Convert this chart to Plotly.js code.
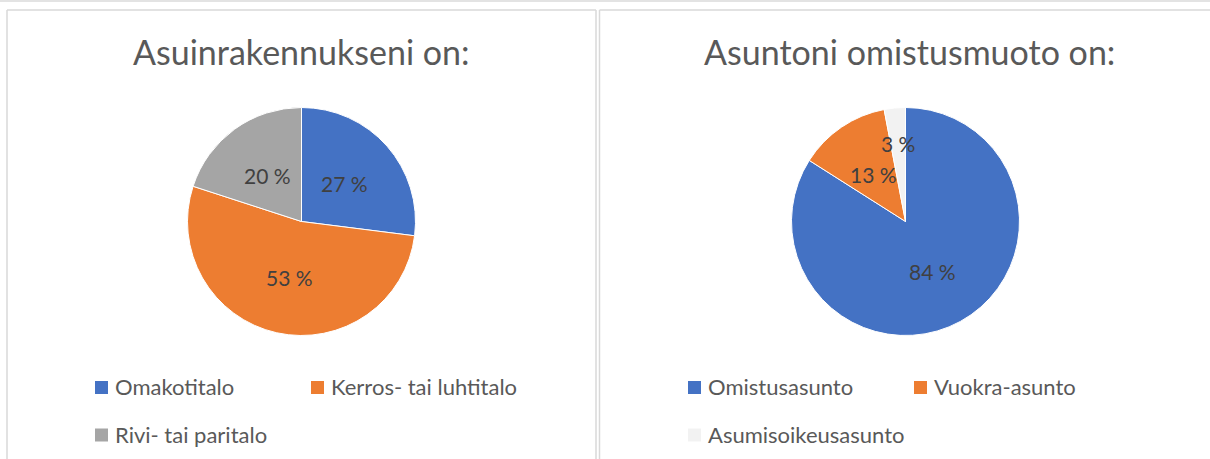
<!DOCTYPE html>
<html><head><meta charset="utf-8">
<script src="https://cdn.plot.ly/plotly-3.0.1.min.js"></script>
<style>html,body{margin:0;padding:0;background:#fff}#chart{width:1210px;height:459px}</style>
</head><body><div id="chart"></div>
<script>
// ---- data ----
const buildingTitle = 'Asuinrakennukseni on:';
const buildingLabels = ['Omakotitalo', 'Kerros- tai luhtitalo', 'Rivi- tai paritalo'];
const buildingValues = [27, 53, 20];
const buildingColors = ['#4472C4', '#ED7D31', '#A5A5A5'];

const tenureTitle = 'Asuntoni omistusmuoto on:';
const tenureLabels = ['Omistusasunto', 'Vuokra-asunto', 'Asumisoikeusasunto'];
const tenureValues = [84, 13, 3];
const tenureColors = ['#4472C4', '#ED7D31', '#F2F2F2'];

// ---- layout / style ----
const W = 1210, H = 459;
const FONT = 'Lato, "Open Sans", sans-serif';
const X = px => px / W, Y = py => 1 - py / H;

const panels = [
  {title: buildingTitle, labels: buildingLabels, values: buildingValues, colors: buildingColors,
   cx: 301.5, cy: 221.5, r: 114, titleX: 301.5, legendCols: [95, 311]},
  {title: tenureTitle, labels: tenureLabels, values: tenureValues, colors: tenureColors,
   cx: 905.5, cy: 221.5, r: 114, titleX: 909, legendCols: [688, 914]}
];
const legendRows = [387.5, 435];
const titleY = 51;

const traces = [], annotations = [], shapes = [];
const border = {color: '#D9D9D9', width: 1.5};
function line(x0, y0, x1, y1, c) {
  shapes.push({type: 'line', xref: 'paper', yref: 'paper', x0: X(x0), y0: Y(y0), x1: X(x1), y1: Y(y1), line: c || border});
}
line(0, 1, W, 1, {color: '#E3E3E3', width: 2});
line(7, 10, 7, H); line(7, 10, 596, 10); line(596, 10, 596, H);
line(599.5, 10, 599.5, H); line(599.5, 10, W, 10);

panels.forEach(p => {
  traces.push({
    type: 'pie', labels: p.labels, values: p.values, sort: false,
    direction: 'clockwise', rotation: 0,
    marker: {colors: p.colors, line: {color: '#FFFFFF', width: 1}},
    textinfo: 'none', hovertemplate: '%{label}: %{value} %<extra></extra>',
    showlegend: false,
    domain: {x: [X(p.cx - p.r), X(p.cx + p.r)], y: [Y(p.cy + p.r), Y(p.cy - p.r)]}
  });
  annotations.push({text: p.title, xref: 'paper', yref: 'paper', x: X(p.titleX), y: Y(titleY),
    xanchor: 'center', yanchor: 'middle', showarrow: false,
    font: {family: FONT, size: 34, color: '#595959'}});
  // data labels
  const total = p.values.reduce((a, b) => a + b, 0);
  let cum = 0;
  p.values.forEach(v => {
    const mid = (cum + v / 2) / total; cum += v;
    const th = 2 * Math.PI * mid;
    const rf = v / total < 0.05 ? 0.69 : 0.5;
    annotations.push({text: v + ' %', xref: 'paper', yref: 'paper',
      x: X(p.cx + rf * p.r * Math.sin(th)), y: Y(p.cy - rf * p.r * Math.cos(th)),
      xanchor: 'center', yanchor: 'middle', showarrow: false,
      font: {family: FONT, size: 21, color: '#404040'}});
  });
  // legend
  p.labels.forEach((lab, i) => {
    const lx = p.legendCols[i % 2], ly = legendRows[Math.floor(i / 2)];
    shapes.push({type: 'rect', xref: 'paper', yref: 'paper', x0: X(lx), x1: X(lx + 13),
      y0: Y(ly + 6.5), y1: Y(ly - 6.5), fillcolor: p.colors[i], line: {width: 0}});
    annotations.push({text: lab, xref: 'paper', yref: 'paper', x: X(lx + 18), y: Y(ly - 1),
      xanchor: 'left', yanchor: 'middle', showarrow: false,
      font: {family: FONT, size: 22, color: '#595959'}});
  });
});

Plotly.newPlot('chart', traces, {
  width: W, height: H, margin: {l: 0, r: 0, t: 0, b: 0},
  paper_bgcolor: '#FFFFFF', plot_bgcolor: '#FFFFFF',
  showlegend: false, annotations: annotations, shapes: shapes
}, {displayModeBar: false, staticPlot: false});
</script>
</body></html>
